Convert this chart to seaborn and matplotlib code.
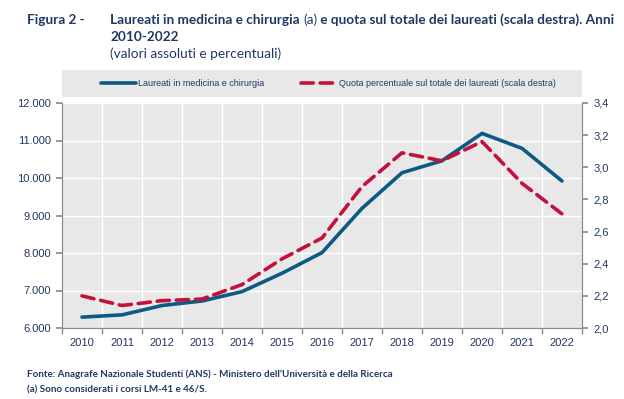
import numpy as np
import pandas as pd
import matplotlib
matplotlib.use("Agg")
import matplotlib.pyplot as plt
from matplotlib.lines import Line2D
from matplotlib.ticker import FuncFormatter, FixedLocator
import seaborn as sns

# dati
anni = [2010, 2011, 2012, 2013, 2014, 2015, 2016, 2017, 2018, 2019, 2020, 2021, 2022]
laureati = [6290, 6350, 6600, 6720, 6970, 7460, 8010, 9190, 10140, 10460, 11190, 10790, 9920]
quota = [2.20, 2.14, 2.17, 2.18, 2.27, 2.43, 2.56, 2.88, 3.09, 3.04, 3.16, 2.90, 2.71]

serie_1 = "Laureati in medicina e chirurgia"
serie_2 = "Quota percentuale sul totale dei laureati (scala destra)"

BLU = "#0d5a85"
ROSSO = "#c4103c"
NAVY = "#1f3864"
SFONDO = "#e8e8e8"
GRIGIO = "#8c8c8c"
TITOLO_FONT = ["Lato", "DejaVu Sans"]

sns.set_theme(style="white")
plt.rcParams['font.family'] = ['Liberation Sans Narrow', 'Liberation Sans', 'DejaVu Sans']

df = pd.DataFrame({"anno": anni, "laureati": laureati, "quota": quota})

fig = plt.figure(figsize=(6.24, 3.99), dpi=100)
ax = fig.add_axes([62 / 624, 1 - 328 / 399, 520 / 624, 225 / 399])
ax.set_facecolor(SFONDO)

sns.lineplot(data=df, x="anno", y="laureati", ax=ax, color=BLU, linewidth=2.6,
             solid_capstyle="round")
ax2 = ax.twinx()
sns.lineplot(data=df, x="anno", y="quota", ax=ax2, color=ROSSO, linewidth=2.6)
ax2.lines[0].set_dashes([3.4, 1.9])
ax2.lines[0].set_dash_capstyle("round")

ax.set_xlim(2009.5, 2022.5)
ax.set_ylim(6000, 12000)
ax2.set_ylim(2.0, 3.4)
ax.set_yticks(np.arange(6000, 12001, 1000))
ax2.set_yticks(np.arange(2.0, 3.41, 0.2))
ax.yaxis.set_major_formatter(FuncFormatter(lambda v, p: f"{v:,.0f}".replace(",", ".")))
ax2.yaxis.set_major_formatter(FuncFormatter(lambda v, p: f"{v:.1f}".replace(".", ",")))

ax.set_xticks(anni)
ax.set_xticklabels([str(a) for a in anni])
ax.xaxis.set_minor_locator(FixedLocator(np.arange(2009.5, 2022.6, 1)))

# griglia bianca
ax.grid(False)
ax2.grid(False)
for v in np.arange(7000, 12001, 1000):
    ax.axhline(v, color="white", linewidth=1, zorder=0.5)
for b in np.arange(2010.5, 2022.5, 1):
    ax.axvline(b, color="white", linewidth=1, zorder=0.5)

ax.set_xlabel("")
ax.set_ylabel("")
ax2.set_ylabel("")

for a in (ax, ax2):
    for s in a.spines.values():
        s.set_color(GRIGIO)
        s.set_linewidth(0.8)
    a.spines["top"].set_visible(False)

ax.tick_params(axis="x", which="major", length=0, pad=7, labelsize=8, labelcolor=NAVY)
ax.tick_params(axis="x", which="minor", length=4, color=GRIGIO, direction="out", bottom=True)
ax.tick_params(axis="y", length=4, color=GRIGIO, direction="out", labelsize=8,
               labelcolor=NAVY, left=True, pad=4)
ax2.tick_params(axis="y", length=4, color=GRIGIO, direction="out", labelsize=8,
                labelcolor=NAVY, right=True, pad=4)
ax.set_zorder(1)
ax2.set_zorder(2)
ax2.patch.set_visible(False)

# legenda in banda grigia (coordinate in pixel orizzontali)
lax = fig.add_axes([62 / 624, 1 - 97 / 399, 520 / 624, 27 / 399])
lax.set_facecolor(SFONDO)
lax.set_xlim(62, 582)
lax.set_ylim(0, 1)
lax.set_xticks([])
lax.set_yticks([])
for s in lax.spines.values():
    s.set_visible(False)
lax.add_line(Line2D([101, 136], [0.5, 0.5], color=BLU, linewidth=2.6, solid_capstyle="round"))
lax.add_line(Line2D([301, 337], [0.5, 0.5], color=ROSSO, linewidth=2.6, dashes=[3.4, 1.9],
                    dash_capstyle="round"))
lax.text(138, 0.5, serie_1, fontsize=6.5, color=NAVY, va="center", ha="left")
lax.text(339, 0.5, serie_2, fontsize=6.5, color=NAVY, va="center", ha="left")

# titoli
fig.text(27 / 624, 1 - 20 / 399, "Figura 2 -", fontsize=9.8, fontweight="bold",
         color=NAVY, family=TITOLO_FONT, va="center")
t1 = fig.text(110 / 624, 1 - 20 / 399, "Laureati in medicina e chirurgia ",
              fontsize=9.8, fontweight="bold", color=NAVY, family=TITOLO_FONT, va="center")
fig.canvas.draw()
r = fig.canvas.get_renderer()
x1 = t1.get_window_extent(r).x1
t2 = fig.text(x1 / 624, 1 - 20 / 399, "(a)", fontsize=9.8, color=NAVY, family=TITOLO_FONT,
              va="center")
x2 = t2.get_window_extent(r).x1
fig.text(x2 / 624, 1 - 20 / 399,
         " e quota sul totale dei laureati (scala destra). Anni",
         fontsize=9.8, fontweight="bold", color=NAVY, family=TITOLO_FONT, va="center")
fig.text(110 / 624, 1 - 37 / 399, "2010-2022", fontsize=9.8, fontweight="bold", color=NAVY,
         family=TITOLO_FONT, va="center")
fig.text(110 / 624, 1 - 54 / 399, "(valori assoluti e percentuali)", fontsize=9.8, color=NAVY,
         family=TITOLO_FONT, va="center")

fig.text(27 / 624, 1 - 374 / 399,
         "Fonte: Anagrafe Nazionale Studenti (ANS) - Ministero dell\u2019Università e della Ricerca",
         fontsize=7.1, fontweight="bold", color=NAVY, family=TITOLO_FONT, va="center")
fig.text(27 / 624, 1 - 390 / 399, "(a) Sono considerati i corsi LM-41 e 46/S.",
         fontsize=7.1, fontweight="bold", color=NAVY, family=TITOLO_FONT, va="center")

fig.savefig("out.png", dpi=100, facecolor="white")
